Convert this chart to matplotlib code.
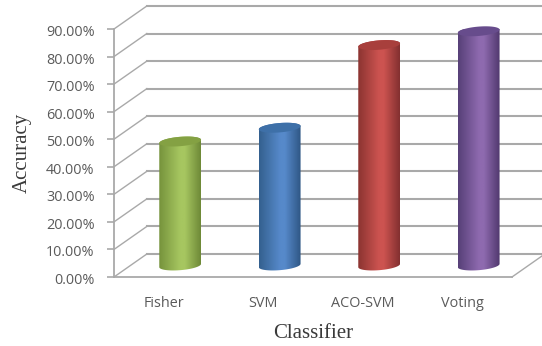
import numpy as np
import matplotlib
matplotlib.use("Agg")
import matplotlib.pyplot as plt
from matplotlib.colors import LinearSegmentedColormap
from matplotlib.patches import PathPatch, Polygon
from matplotlib.path import Path
from matplotlib.transforms import ScaledTranslation

classifiers = ["Fisher", "SVM", "ACO-SVM", "Voting"]
accuracy = [45, 50, 80, 85]
y_ticks = [0, 10, 20, 30, 40, 50, 60, 70, 80, 90]
y_tick_labels = ["0.00%", "10.00%", "20.00%", "30.00%", "40.00%",
                 "50.00%", "60.00%", "70.00%", "80.00%", "90.00%"]
# edge, middle, dark edge, top
bar_colors = [
    ("#76933c", "#a6c660", "#6f8a38", "#84a143"),
    ("#34608f", "#5689ca", "#2f5785", "#3e70a8"),
    ("#8c3431", "#cc5350", "#833030", "#a83f3c"),
    ("#574078", "#8e6aaf", "#51396f", "#674c8c"),
]

GRID = "#a9a9a9"
DEPTH_X = 0.33  # oblique depth of the box, in data units
DEPTH_Y = 8.35
BAR_A = 0.21  # half width of a cylinder
BAR_B = 1.7  # half height of the ellipse
BAR_TILT = 0.6

W, H = 542, 346
fig = plt.figure(figsize=(W / 100, H / 100), dpi=100)
ax = fig.add_axes([114 / W, 1 - 277 / H, (512 - 114) / W, (277 - 29) / H])

# walls
for v in y_ticks:
    ax.plot([0, DEPTH_X], [v, v + DEPTH_Y], color=GRID, lw=1.0, clip_on=False, zorder=1)
    ax.plot([DEPTH_X, 4 + DEPTH_X], [v + DEPTH_Y, v + DEPTH_Y],
            color=GRID, lw=1.5, clip_on=False, zorder=1)
ax.plot([4, 4 + DEPTH_X], [0, DEPTH_Y], color=GRID, lw=1.0, clip_on=False, zorder=1)


def ellipse_xy(cx, cy, t):
    return cx + BAR_A * np.cos(t), cy + BAR_B * np.sin(t) + BAR_TILT * np.cos(t)


# cylinders stand in the middle of the floor depth
for i, (value, cols) in enumerate(zip(accuracy, bar_colors)):
    cx = i + 0.5 + DEPTH_X / 2
    base = DEPTH_Y / 2
    top = value + DEPTH_Y / 2

    t_low = np.linspace(np.pi, 2 * np.pi, 40)
    t_up = np.linspace(0, np.pi, 40)
    xb, yb = ellipse_xy(cx, base, t_low)
    xt, yt = ellipse_xy(cx, top, t_up)
    pts = np.column_stack([np.r_[xb, xt], np.r_[yb, yt]])
    body = Polygon(pts, closed=True, transform=ax.transData, facecolor="none", edgecolor="none")
    ax.add_patch(body)

    cmap = LinearSegmentedColormap.from_list(
        "cyl", [(0, cols[0]), (0.5, cols[1]), (0.62, cols[1]), (1, cols[2])])
    img = ax.imshow(np.linspace(0, 1, 64).reshape(1, -1), cmap=cmap, aspect="auto",
                    extent=[cx - BAR_A, cx + BAR_A, base - 3, top + 3], zorder=3, clip_on=True)
    img.set_clip_path(body)

    t = np.linspace(0, 2 * np.pi, 80)
    xc, yc = ellipse_xy(cx, top, t)
    ax.add_patch(PathPatch(Path(np.column_stack([xc, yc])), facecolor=cols[3],
                           edgecolor="none", zorder=4, clip_on=False))

ax.set_xlim(0, 4)
ax.set_ylim(0, 90)
ax.patch.set_visible(False)
for side in ["top", "right"]:
    ax.spines[side].set_visible(False)
for side in ["left", "bottom"]:
    ax.spines[side].set_color(GRID)
    ax.spines[side].set_linewidth(1.3)

ax.set_yticks(y_ticks)
ax.set_yticklabels(y_tick_labels, family="Open Sans", fontsize=10.4, color="#5a5a5a",
                   va="center_baseline")
ax.tick_params(axis="y", length=5, width=1.2, color=GRID, pad=9)
# labels sit a little below their ticks
shift = ScaledTranslation(0, -1.5 / 100, fig.dpi_scale_trans)
for lab in ax.get_yticklabels():
    lab.set_transform(lab.get_transform() + shift)
ax.set_xticks(np.arange(4) + 0.5)
ax.set_xticklabels(classifiers, family="Open Sans", fontsize=10.4, color="#5a5a5a")
ax.tick_params(axis="x", length=0, pad=14)

fig.text(313 / W, 1 - 333 / H, "Classifier", family="Liberation Serif", fontsize=15,
         color="#3a3a3a", ha="center", va="center")
fig.text(22 / W, 1 - 153 / H, "Accuracy", family="Liberation Serif", fontsize=15,
         color="#3a3a3a", ha="center", va="center", rotation=90)

fig.savefig("out.png", dpi=100)
